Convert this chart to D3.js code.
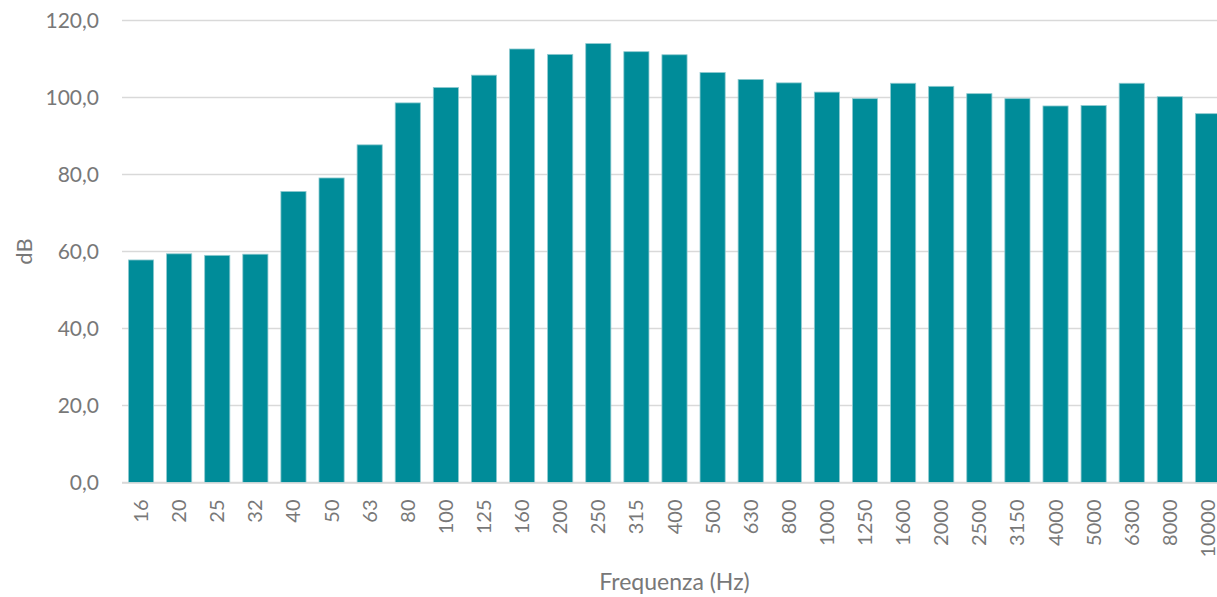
<!DOCTYPE html>
<html>
<head>
<meta charset="utf-8">
<script src="https://cdn.jsdelivr.net/npm/d3@7"></script>
<style>
  body { margin: 0; background: #fff; }
  svg text { font-family: Lato, "Open Sans", sans-serif; fill: #787878; }
</style>
</head>
<body>
<div id="chart"></div>
<script>
// frequency bands (Hz) and measured level (dB)
const bands = ["16","20","25","32","40","50","63","80","100","125","160","200","250","315",
  "400","500","630","800","1000","1250","1600","2000","2500","3150","4000","5000","6300","8000","10000"];
const levels = [57.8,59.4,59.0,59.3,75.6,79.1,87.7,98.6,102.6,105.8,112.6,111.2,114.0,111.9,
  111.1,106.5,104.7,103.8,101.4,99.7,103.7,102.9,101.0,99.7,97.8,97.9,103.7,100.2,95.8];
const yTicks = [0, 20, 40, 60, 80, 100, 120];

const W = 1217, H = 597;
const margin = {top: 20.5, left: 122, bottom: 114.5};
const plotRight = 1227; // plot area runs a little past the window edge

const svg = d3.select("#chart").append("svg")
  .attr("width", W)
  .attr("height", H);

const x = d3.scaleBand()
  .domain(bands)
  .range([margin.left, plotRight])
  .paddingInner(0.34)
  .paddingOuter(0.17);

const y = d3.scaleLinear()
  .domain([0, 120])
  .range([H - margin.bottom, margin.top]);

// gridlines
svg.append("g")
  .selectAll("line")
  .data(yTicks)
  .join("line")
  .attr("x1", margin.left)
  .attr("x2", plotRight)
  .attr("y1", d => y(d))
  .attr("y2", d => y(d))
  .attr("stroke", "#d9d9d9")
  .attr("stroke-width", 1.3);

// y tick labels
const fmt = d => d.toFixed(1).replace(".", ",");
svg.append("g")
  .selectAll("text")
  .data(yTicks)
  .join("text")
  .attr("x", margin.left - 23)
  .attr("y", d => y(d))
  .attr("dy", "0.35em")
  .attr("text-anchor", "end")
  .style("font-size", "21px")
  .text(fmt);

// bars
svg.append("g")
  .selectAll("rect")
  .data(levels)
  .join("rect")
  .attr("x", (d, i) => x(bands[i]))
  .attr("width", x.bandwidth())
  .attr("y", d => y(d))
  .attr("height", d => y(0) - y(d))
  .attr("fill", "#008c99")
  .attr("stroke", "#8fcad0")
  .attr("stroke-width", 0.8);

// x axis line
svg.append("line")
  .attr("x1", margin.left)
  .attr("x2", plotRight)
  .attr("y1", y(0) + 0.5)
  .attr("y2", y(0) + 0.5)
  .attr("stroke", "#d9d9d9")
  .attr("stroke-width", 1.5);

// x tick labels, rotated
svg.append("g")
  .selectAll("text")
  .data(bands)
  .join("text")
  .attr("transform", d => "translate(" + (x(d) + x.bandwidth() / 2) + "," + (y(0) + 17) + ") rotate(-90)")
  .attr("dy", "0.35em")
  .attr("text-anchor", "end")
  .style("font-size", "20px")
  .text(d => d);

// axis titles
svg.append("text")
  .attr("x", (margin.left + plotRight) / 2)
  .attr("y", 590)
  .attr("text-anchor", "middle")
  .style("font-size", "23px")
  .text("Frequenza (Hz)");

svg.append("text")
  .attr("transform", "translate(32," + y(60) + ") rotate(-90)")
  .attr("text-anchor", "middle")
  .style("font-size", "22px")
  .text("dB");
</script>
</body>
</html>
